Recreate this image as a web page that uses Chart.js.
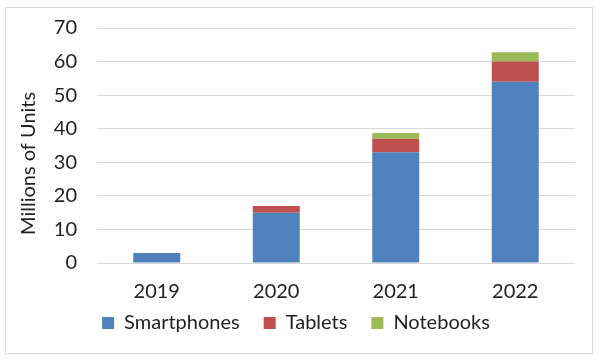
<!DOCTYPE html>
<html lang="en">
<head>
  <meta charset="UTF-8">
  <script src="https://cdn.jsdelivr.net/npm/chart.js"></script>
  <title>Units by Year</title>
  <style>
    body {
      margin: 0;
      padding: 0;
      background: #fff;
    }
    .frame {
      position: absolute;
      left: 5px;
      top: 7px;
      width: 586px;
      height: 345px;
      border: 1px solid #d9d9d9;
    }
  </style>
</head>
<body>
  <div class="frame">
    <canvas id="unitsChart"></canvas>
  </div>

  <script>
    const years = ['2019', '2020', '2021', '2022'];
    const smartphones = [3, 15, 33, 54];
    const tablets = [0, 2, 4, 6];
    const notebooks = [0, 0, 1.7, 2.8];
    const yTicks = [0, 10, 20, 30, 40, 50, 60, 70];

    const font = "Lato, 'Open Sans', sans-serif";
    const textColor = '#1f1f1f';

    const ctx = document.getElementById('unitsChart').getContext('2d');
    new Chart(ctx, {
      type: 'bar',
      data: {
        labels: years,
        datasets: [
          { label: 'Smartphones', data: smartphones, backgroundColor: '#4f81bd' },
          { label: 'Tablets', data: tablets, backgroundColor: '#c0504d' },
          { label: 'Notebooks', data: notebooks, backgroundColor: '#9bbb59' }
        ]
      },
      options: {
        responsive: true,
        maintainAspectRatio: false,
        animation: false,
        layout: { padding: { left: 11, right: 17, top: 20, bottom: 10 } },
        datasets: {
          bar: { categoryPercentage: 1, barPercentage: 0.393 }
        },
        scales: {
          x: {
            stacked: true,
            grid: { display: false, drawTicks: false },
            border: { display: false },
            ticks: { color: textColor, font: { family: font, size: 20 }, padding: 17 },
            // drop the padding chart.js adds under the year labels
            afterFit: (scale) => { scale.height -= 17; }
          },
          y: {
            stacked: true,
            min: 0,
            max: 70,
            afterBuildTicks: (axis) => { axis.ticks = yTicks.map(v => ({ value: v })); },
            afterFit: (scale) => {
              scale.width = 80;
              scale.paddingTop = 0;
            },
            grid: { color: '#d9d9d9', lineWidth: 1, drawTicks: false },
            border: { display: false },
            ticks: { color: textColor, font: { family: font, size: 20 }, padding: 20 },
            title: {
              display: true,
              // trailing spaces nudge the title a bit below the middle, as in the original
              text: 'Millions of Units       ',
              color: textColor,
              font: { family: font, size: 20 },
              padding: { top: 0, bottom: 0 }
            }
          }
        },
        plugins: {
          legend: {
            position: 'bottom',
            // empty title with negative padding pulls the legend items up to the year labels
            title: { display: true, text: '', font: { size: 1, lineHeight: 1 }, padding: { top: 0, bottom: -16 } },
            labels: {
              boxWidth: 12,
              boxHeight: 12,
              padding: 24,
              color: textColor,
              font: { family: font, size: 20 }
            }
          },
          tooltip: { enabled: false }
        }
      }
    });
  </script>
</body>
</html>
